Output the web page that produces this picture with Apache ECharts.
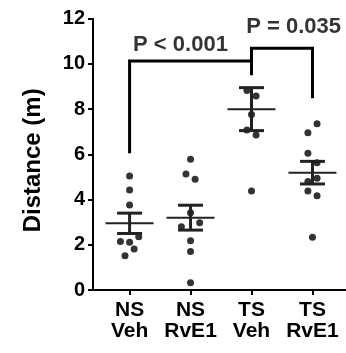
<!DOCTYPE html>
<html><head><meta charset="utf-8">
<script src="https://cdn.jsdelivr.net/npm/echarts@6/dist/echarts.min.js"></script>
<style>html,body{margin:0;padding:0;background:#fff}#c{width:346px;height:353px}</style>
</head><body><div id="c"></div>
<script>
var categories = ["NS\nVeh", "NS\nRvE1", "TS\nVeh", "TS\nRvE1"];
var nsVeh   = [5.04, 4.42, 3.76, 2.36, 2.14, 2.11, 1.81, 1.52];
var nsRvE1  = [5.78, 5.13, 4.90, 3.42, 2.98, 2.80, 2.18, 1.70, 0.32];
var tsVeh   = [8.82, 8.58, 7.76, 7.08, 6.86, 4.38];
var tsRvE1  = [7.35, 6.96, 6.05, 5.63, 4.94, 4.80, 4.38, 4.17, 2.33];
var jitterNsVeh  = [0, 0, 0, 0.15, -0.15, 0, 0.075, -0.075];
var jitterNsRvE1 = [0, -0.075, 0.075, 0, 0.15, -0.15, 0, 0, 0];
var jitterTsVeh  = [-0.075, 0.075, 0, -0.075, 0.075, 0];
var jitterTsRvE1 = [0.075, -0.075, -0.075, 0.075, 0.075, -0.075, -0.075, 0.075, 0];
var means = [2.95, 3.20, 8.00, 5.19];
var sems  = [0.45, 0.55, 0.95, 0.50];
var yTicks = [0, 2, 4, 6, 8, 10, 12];
var bracket1 = [[1, 6.05], [1, 10.13], [3, 10.13], [3, 9.5]];
var bracket2 = [[3, 9.73], [3, 10.69], [4, 10.69], [4, 8.48]];
var pLabels = ["P < 0.001", "P = 0.035"];
var pLabelPos = [[1.835, 10.83], [3.69, 11.63]];

var groups = [nsVeh, nsRvE1, tsVeh, tsRvE1];
var jitters = [jitterNsVeh, jitterNsRvE1, jitterTsVeh, jitterTsRvE1];
var dots = [];
groups.forEach(function (g, i) {
  g.forEach(function (v, j) { dots.push([i + 1 + jitters[i][j], v]); });
});
var errData = means.map(function (m, i) { return [i + 1, m, sems[i]]; });
var FONT = '"Liberation Sans", Arial, Helvetica, sans-serif';

var chart = echarts.init(document.getElementById('c'));
chart.setOption({
  animation: false,
  grid: { left: 93, right: 0, top: 18.7, bottom: 63, containLabel: false },
  xAxis: {
    type: 'value', min: 0.4, max: 4.55,
    splitLine: { show: false },
    axisLine: { show: true, onZero: false, lineStyle: { color: '#000', width: 2 } },
    axisTick: { show: true, length: 5, lineStyle: { color: '#000', width: 2 }, customValues: [1, 2, 3, 4] },
    axisLabel: {
      show: true, customValues: [1, 2, 3, 4], margin: 10,
      fontFamily: FONT, fontWeight: 'bold', fontSize: 21, lineHeight: 21, color: '#000',
      formatter: function (v) { return categories[Math.round(v) - 1] || ''; }
    }
  },
  yAxis: {
    type: 'value', min: 0, max: 12, interval: 2,
    splitLine: { show: false },
    axisLine: { show: true, lineStyle: { color: '#000', width: 2 } },
    axisTick: { show: true, length: 5, lineStyle: { color: '#000', width: 2 } },
    axisLabel: {
      margin: 8, fontFamily: FONT, fontWeight: 'bold', fontSize: 20, color: '#000',
      formatter: function (v) { return yTicks.indexOf(v) >= 0 ? String(v) : ''; }
    },
    name: 'Distance (m)', nameLocation: 'middle', nameRotate: 90, nameGap: 48,
    nameTextStyle: { fontFamily: FONT, fontWeight: 'bold', fontSize: 24, color: '#000', padding: [0, 12, 0, 0] }
  },
  series: [
    {
      type: 'scatter', data: dots, symbolSize: 7, z: 3,
      itemStyle: { color: '#000' }, silent: true
    },
    {
      type: 'custom', data: errData, z: 4, silent: true,
      renderItem: function (params, api) {
        var x = api.value(0), m = api.value(1), s = api.value(2);
        var c = api.coord([x, m]), t = api.coord([x, m + s]), b = api.coord([x, m - s]);
        var st = { stroke: '#222', lineWidth: 3 };
        return {
          type: 'group', children: [
            { type: 'line', shape: { x1: c[0], y1: t[1], x2: c[0], y2: b[1] }, style: st },
            { type: 'line', shape: { x1: c[0] - 12.5, y1: t[1], x2: c[0] + 12.5, y2: t[1] }, style: st },
            { type: 'line', shape: { x1: c[0] - 12.5, y1: b[1], x2: c[0] + 12.5, y2: b[1] }, style: st },
            { type: 'line', shape: { x1: c[0] - 24, y1: c[1], x2: c[0] + 24, y2: c[1] }, style: { stroke: '#222', lineWidth: 2 } }
          ]
        };
      }
    },
    {
      type: 'line', data: bracket1, symbol: 'none', silent: true,
      lineStyle: { color: '#000', width: 3, join: 'miter' }
    },
    {
      type: 'line', data: bracket2, symbol: 'none', silent: true,
      lineStyle: { color: '#000', width: 3, join: 'miter' }
    },
    {
      type: 'scatter', symbolSize: 0, silent: true,
      data: pLabelPos.map(function (p, i) { return { value: p, name: pLabels[i] }; }),
      label: {
        show: true, position: 'inside', formatter: '{b}',
        fontFamily: FONT, fontWeight: 'bold', fontSize: 22, color: '#000'
      }
    }
  ]
});
</script>
</body></html>
